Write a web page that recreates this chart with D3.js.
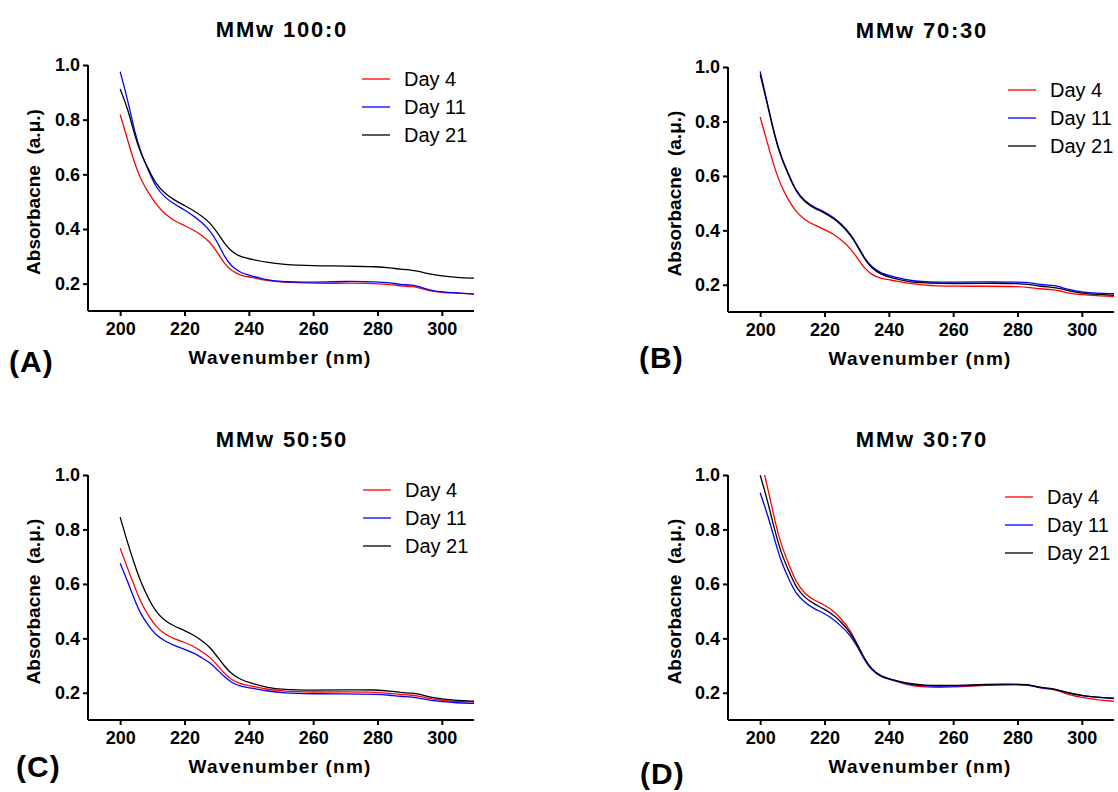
<!DOCTYPE html>
<html>
<head>
<meta charset="utf-8">
<script src="https://cdn.jsdelivr.net/npm/d3@7"></script>
<style>
  html, body { margin: 0; padding: 0; background: #fff; }
  svg { display: block; }
  text { font-family: Arial, "Liberation Sans", Helvetica, sans-serif; fill: #000; }
</style>
</head>
<body>
<svg id="chart" width="1118" height="792"></svg>
<script>
// Wavelengths (nm) at which the spectra are sampled
const wavelengths = [200, 202.5, 204.5, 206.5, 209, 211, 214, 217, 220, 223, 225, 228, 230.5, 232.5, 234.5,
  237.5, 240.5, 245.5, 250.5, 260, 270, 280, 284, 287, 291, 293, 296, 300, 304.5, 310];

const seriesNames = ["Day 4", "Day 11", "Day 21"];
const seriesColors = ["#ff0000", "#0000ff", "#000000"];
const xTicks = [200, 220, 240, 260, 280, 300];
const yTicks = [0.2, 0.4, 0.6, 0.8, 1.0];

// MMw 100:0
const mmw100_day4  = [0.819, 0.719, 0.639, 0.578, 0.529, 0.492, 0.453, 0.429, 0.413, 0.395, 0.380, 0.352, 0.309, 0.272, 0.248,
  0.229, 0.224, 0.211, 0.205, 0.201, 0.202, 0.201, 0.197, 0.192, 0.189, 0.185, 0.174, 0.168, 0.166, 0.162];
const mmw100_day11 = [0.976, 0.865, 0.755, 0.676, 0.609, 0.554, 0.514, 0.490, 0.470, 0.446, 0.428, 0.395, 0.346, 0.297, 0.264,
  0.239, 0.230, 0.213, 0.206, 0.205, 0.209, 0.207, 0.203, 0.197, 0.195, 0.189, 0.177, 0.169, 0.166, 0.162];
const mmw100_day21 = [0.912, 0.835, 0.743, 0.672, 0.615, 0.566, 0.529, 0.505, 0.486, 0.466, 0.450, 0.423, 0.382, 0.346, 0.319,
  0.297, 0.290, 0.278, 0.270, 0.265, 0.265, 0.262, 0.258, 0.253, 0.249, 0.245, 0.235, 0.228, 0.223, 0.220];

// MMw 70:30
const mmw70_day4  = [0.817, 0.709, 0.629, 0.562, 0.507, 0.470, 0.436, 0.419, 0.403, 0.385, 0.366, 0.336, 0.293, 0.260, 0.238,
  0.222, 0.218, 0.206, 0.198, 0.194, 0.195, 0.194, 0.190, 0.185, 0.182, 0.178, 0.169, 0.163, 0.160, 0.157];
const mmw70_day11 = [0.984, 0.854, 0.750, 0.670, 0.603, 0.548, 0.505, 0.484, 0.468, 0.446, 0.426, 0.389, 0.340, 0.297, 0.267,
  0.242, 0.233, 0.218, 0.210, 0.209, 0.211, 0.210, 0.208, 0.200, 0.198, 0.193, 0.182, 0.173, 0.169, 0.167];
const mmw70_day21 = [0.972, 0.850, 0.746, 0.666, 0.599, 0.544, 0.501, 0.480, 0.464, 0.442, 0.422, 0.385, 0.336, 0.293, 0.263,
  0.238, 0.227, 0.212, 0.206, 0.204, 0.206, 0.205, 0.201, 0.194, 0.191, 0.187, 0.177, 0.169, 0.165, 0.161];

// MMw 50:50
const mmw50_day4  = [0.731, 0.651, 0.590, 0.529, 0.480, 0.444, 0.413, 0.398, 0.385, 0.370, 0.354, 0.331, 0.297, 0.270, 0.248,
  0.232, 0.226, 0.213, 0.205, 0.202, 0.204, 0.202, 0.198, 0.194, 0.191, 0.188, 0.179, 0.172, 0.168, 0.166];
const mmw50_day11 = [0.676, 0.603, 0.541, 0.486, 0.444, 0.413, 0.389, 0.373, 0.360, 0.346, 0.331, 0.311, 0.281, 0.258, 0.238,
  0.223, 0.218, 0.207, 0.199, 0.196, 0.196, 0.195, 0.191, 0.187, 0.184, 0.180, 0.173, 0.167, 0.163, 0.161];
const mmw50_day21 = [0.845, 0.743, 0.670, 0.603, 0.541, 0.499, 0.462, 0.444, 0.429, 0.411, 0.395, 0.368, 0.327, 0.297, 0.270,
  0.248, 0.236, 0.220, 0.211, 0.209, 0.211, 0.211, 0.206, 0.201, 0.199, 0.195, 0.184, 0.177, 0.172, 0.169];

// MMw 30:70
const mmw30_day4  = [1.07, 0.945, 0.835, 0.743, 0.670, 0.609, 0.560, 0.539, 0.523, 0.499, 0.474, 0.431, 0.370, 0.321, 0.288,
  0.260, 0.250, 0.229, 0.220, 0.220, 0.228, 0.231, 0.228, 0.217, 0.213, 0.206, 0.193, 0.183, 0.174, 0.169];
const mmw30_day11 = [0.935, 0.847, 0.762, 0.682, 0.615, 0.566, 0.529, 0.507, 0.492, 0.468, 0.447, 0.413, 0.364, 0.319, 0.285,
  0.258, 0.248, 0.233, 0.224, 0.224, 0.229, 0.231, 0.228, 0.218, 0.215, 0.209, 0.198, 0.189, 0.184, 0.179];
const mmw30_day21 = [1.0, 0.896, 0.798, 0.713, 0.645, 0.590, 0.547, 0.525, 0.507, 0.484, 0.462, 0.423, 0.370, 0.324, 0.288,
  0.260, 0.250, 0.235, 0.227, 0.226, 0.232, 0.232, 0.229, 0.220, 0.215, 0.209, 0.199, 0.190, 0.184, 0.180];

const panelTitles = ["MMw 100:0", "MMw 70:30", "MMw 50:50", "MMw 30:70"];
const panelTags = ["(A)", "(B)", "(C)", "(D)"];

// Layout of the four panels: plot box, legend anchor, tag position
const panels = [
  { title: panelTitles[0], tag: panelTags[0], series: [mmw100_day4, mmw100_day11, mmw100_day21],
    x0: 88, x1: 474, yTop: 65, yBot: 311, titleY: 37, legX: 362, legY: 79, tagX: 9, tagY: 372, yLabX: 40 },
  { title: panelTitles[1], tag: panelTags[1], series: [mmw70_day4, mmw70_day11, mmw70_day21],
    x0: 728, x1: 1114, yTop: 67, yBot: 312, titleY: 38, legX: 1008, legY: 90, tagX: 639, tagY: 368, yLabX: 681 },
  { title: panelTitles[2], tag: panelTags[2], series: [mmw50_day4, mmw50_day11, mmw50_day21],
    x0: 88, x1: 474, yTop: 475, yBot: 720, titleY: 447, legX: 363, legY: 490, tagX: 16, tagY: 777, yLabX: 40 },
  { title: panelTitles[3], tag: panelTags[3], series: [mmw30_day4, mmw30_day11, mmw30_day21],
    x0: 728, x1: 1114, yTop: 475, yBot: 720, titleY: 447, legX: 1005, legY: 497, tagX: 640, tagY: 784, yLabX: 681 }
];

const svg = d3.select("#chart");

panels.forEach((p, i) => {
  const x = d3.scaleLinear().domain([190, 310]).range([p.x0, p.x1]);
  const y = d3.scaleLinear().domain([0.1, 1.0]).range([p.yBot, p.yTop]);
  const g = svg.append("g");
  const cx = (x(200) + x(300)) / 2;

  // clip region = plot box
  const clipId = "clip" + i;
  svg.append("clipPath").attr("id", clipId)
    .append("rect").attr("x", p.x0).attr("y", p.yTop)
    .attr("width", p.x1 - p.x0).attr("height", p.yBot - p.yTop);

  const line = d3.line()
    .x((d, k) => x(wavelengths[k]))
    .y(d => y(d))
    .curve(d3.curveBasis);

  g.append("g").attr("clip-path", `url(#${clipId})`)
    .selectAll("path").data(p.series).join("path")
    .attr("d", d => line(d))
    .attr("fill", "none")
    .attr("stroke", (d, k) => seriesColors[k])
    .attr("stroke-width", 1.3);

  // axes
  const xAxis = d3.axisBottom(x).tickValues(xTicks).tickSize(5).tickPadding(6).tickFormat(d3.format("d"));
  const yAxis = d3.axisLeft(y).tickValues(yTicks).tickSize(5).tickPadding(3).tickFormat(d3.format(".1f"));

  const gx = g.append("g").attr("transform", `translate(0,${p.yBot})`).call(xAxis);
  const gy = g.append("g").attr("transform", `translate(${p.x0},0)`).call(yAxis);
  [gx, gy].forEach(a => {
    a.select(".domain").attr("stroke", "#000").attr("stroke-width", 2);
    a.selectAll(".tick line").attr("stroke", "#000").attr("stroke-width", 2);
    a.selectAll(".tick text").attr("font-size", 18).attr("font-weight", "bold")
      .style("font-family", "Arial, 'Liberation Sans', sans-serif");
  });
  gx.select(".domain").attr("d", `M${p.x0},0H${p.x1}`);
  gy.select(".domain").attr("d", `M0,${p.yBot}V${y(1.0)}`);

  // title
  g.append("text").attr("x", cx + 1).attr("y", p.titleY)
    .attr("text-anchor", "middle").attr("font-size", 22).attr("font-weight", "bold")
    .attr("letter-spacing", 1.8)
    .text(p.title);

  // axis titles
  g.append("text").attr("x", cx - 1).attr("y", p.yBot + 53)
    .attr("text-anchor", "middle").attr("font-size", 19).attr("font-weight", "bold")
    .attr("letter-spacing", 1.2)
    .text("Wavenumber (nm)");

  g.append("text")
    .attr("transform", `translate(${p.yLabX},${(p.yTop + p.yBot) / 2 + 4}) rotate(-90)`)
    .attr("text-anchor", "middle").attr("font-size", 19).attr("font-weight", "bold")
    .attr("xml:space", "preserve")
    .text("Absorbacne  (a.\u03bc.)");

  // legend
  const leg = g.append("g");
  seriesNames.forEach((name, k) => {
    const ly = p.legY + k * 28;
    leg.append("line").attr("x1", p.legX).attr("x2", p.legX + 28)
      .attr("y1", ly).attr("y2", ly)
      .attr("stroke", seriesColors[k]).attr("stroke-width", 1.3);
    leg.append("text").attr("x", p.legX + 42).attr("y", ly + 7)
      .attr("font-size", 20).text(name);
  });

  // panel tag
  g.append("text").attr("x", p.tagX).attr("y", p.tagY)
    .attr("font-size", 30).attr("font-weight", "bold").attr("letter-spacing", 1)
    .text(p.tag);
});
</script>
</body>
</html>
